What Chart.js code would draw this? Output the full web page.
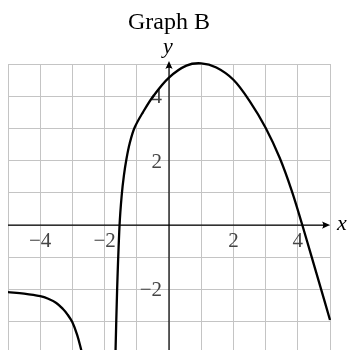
<!DOCTYPE html>
<html>
<head>
<meta charset="utf-8">
<script src="https://cdn.jsdelivr.net/npm/chart.js@4.4.1/dist/chart.umd.min.js"></script>
<style>
  html, body { margin: 0; padding: 0; background: #fff; }
</style>
</head>
<body>
<canvas id="graph" width="351" height="350"></canvas>
<script>
// left branch, runs down into the asymptote near x = -2.6
const leftX = [-5, -4.5, -4, -3.75, -3.5, -3.3, -3.15, -3, -2.85, -2.72];
const leftY = [-2.08, -2.13, -2.21, -2.29, -2.42, -2.6, -2.78, -3.02, -3.42, -3.9];

// main branch, comes up from below near x = -1.6
const mainX = [-1.66, -1.61, -1.535, -1.47, -1.4, -1.32, -1.22, -1.07, -0.81, -0.47, 0, 0.54, 1, 1.47, 2, 2.51, 3, 3.44, 3.81, 4.14, 4.43, 4.72, 5];
const mainY = [-3.9, -1.97, 0, 0.91, 1.54, 2.06, 2.54, 3.02, 3.5, 4.03, 4.58, 4.95, 5.02, 4.89, 4.51, 3.84, 3.02, 2.08, 1.07, 0, -0.99, -1.98, -2.95];

const xTickLabels = [-4, -2, 2, 4];
const yTickLabels = [-2, 2, 4];

const xMin = -5, xMax = 5;
const yMin = -3.88, yMax = 5;

function toPoints(xs, ys) {
    let pts = [];
    for (let i = 0; i < xs.length; i++) {
        pts.push({x: xs[i], y: ys[i]});
    }
    return pts;
}

function minus(v) {
    return v < 0 ? '\u2212' + Math.abs(v) : String(v);
}

function arrowHead(ctx, x, y, dir) {
    // dir: 'right' or 'up'
    ctx.save();
    ctx.translate(x, y);
    if (dir === 'up') ctx.rotate(-Math.PI / 2);
    ctx.beginPath();
    ctx.moveTo(0, 0);
    ctx.lineTo(-8, -3.6);
    ctx.quadraticCurveTo(-5.5, 0, -8, 3.6);
    ctx.closePath();
    ctx.fillStyle = '#000';
    ctx.fill();
    ctx.restore();
}

const axesPlugin = {
    id: 'axes',
    beforeDatasetsDraw(chart) {
        const ctx = chart.ctx;
        const xs = chart.scales.x;
        const ys = chart.scales.y;
        const area = chart.chartArea;
        const ox = xs.getPixelForValue(0);
        const oy = ys.getPixelForValue(0);

        ctx.save();
        ctx.strokeStyle = '#000';
        ctx.lineWidth = 1.2;
        ctx.beginPath();
        ctx.moveTo(area.left, oy);
        ctx.lineTo(area.right - 3, oy);
        ctx.moveTo(ox, area.bottom);
        ctx.lineTo(ox, area.top - 0);
        ctx.stroke();
        arrowHead(ctx, area.right, oy, 'right');
        arrowHead(ctx, ox, area.top - 3, 'up');

        ctx.fillStyle = '#444';
        ctx.font = '21px "Liberation Serif"';
        ctx.textAlign = 'center';
        ctx.textBaseline = 'alphabetic';
        xTickLabels.forEach(v => {
            ctx.fillText(minus(v), xs.getPixelForValue(v), oy + 21.5);
        });
        ctx.textAlign = 'right';
        yTickLabels.forEach(v => {
            ctx.fillText(minus(v), ox - 7, ys.getPixelForValue(v) + 7);
        });

        ctx.fillStyle = '#000';
        ctx.font = 'italic 22px "Liberation Serif"';
        ctx.textAlign = 'left';
        ctx.fillText('x', area.right + 7, oy + 5);
        ctx.textAlign = 'center';
        ctx.fillText('y', ox - 1, area.top - 11);
        ctx.restore();
    }
};

const lineStyle = {
    borderColor: '#000',
    borderWidth: 2.3,
    pointRadius: 0,
    fill: false,
    tension: 0.35,
    clip: {left: 0, top: 3, right: 2, bottom: 0}
};

new Chart(document.getElementById('graph').getContext('2d'), {
    type: 'line',
    data: {
        datasets: [
            Object.assign({label: 'left', data: toPoints(leftX, leftY)}, lineStyle),
            Object.assign({label: 'main', data: toPoints(mainX, mainY)}, lineStyle)
        ]
    },
    options: {
        responsive: false,
        animation: false,
        devicePixelRatio: 1,
        layout: {
            padding: {left: 8, right: 21, top: 0, bottom: 0}
        },
        plugins: {
            legend: {display: false},
            tooltip: {enabled: false},
            title: {
                display: true,
                text: 'Graph B',
                fullSize: false,
                color: '#000',
                font: {family: '"Liberation Serif"', size: 24, weight: 'normal'},
                padding: {top: 8, bottom: 27.2}
            }
        },
        scales: {
            x: {
                type: 'linear',
                min: xMin,
                max: xMax,
                ticks: {display: false, stepSize: 1},
                grid: {color: '#c4c4c4', lineWidth: 1, drawTicks: false},
                border: {display: false}
            },
            y: {
                type: 'linear',
                min: yMin,
                max: yMax,
                ticks: {display: false, stepSize: 1, includeBounds: false},
                grid: {color: '#c4c4c4', lineWidth: 1, drawTicks: false},
                border: {display: false}
            }
        }
    },
    plugins: [axesPlugin]
});
</script>
</body>
</html>
